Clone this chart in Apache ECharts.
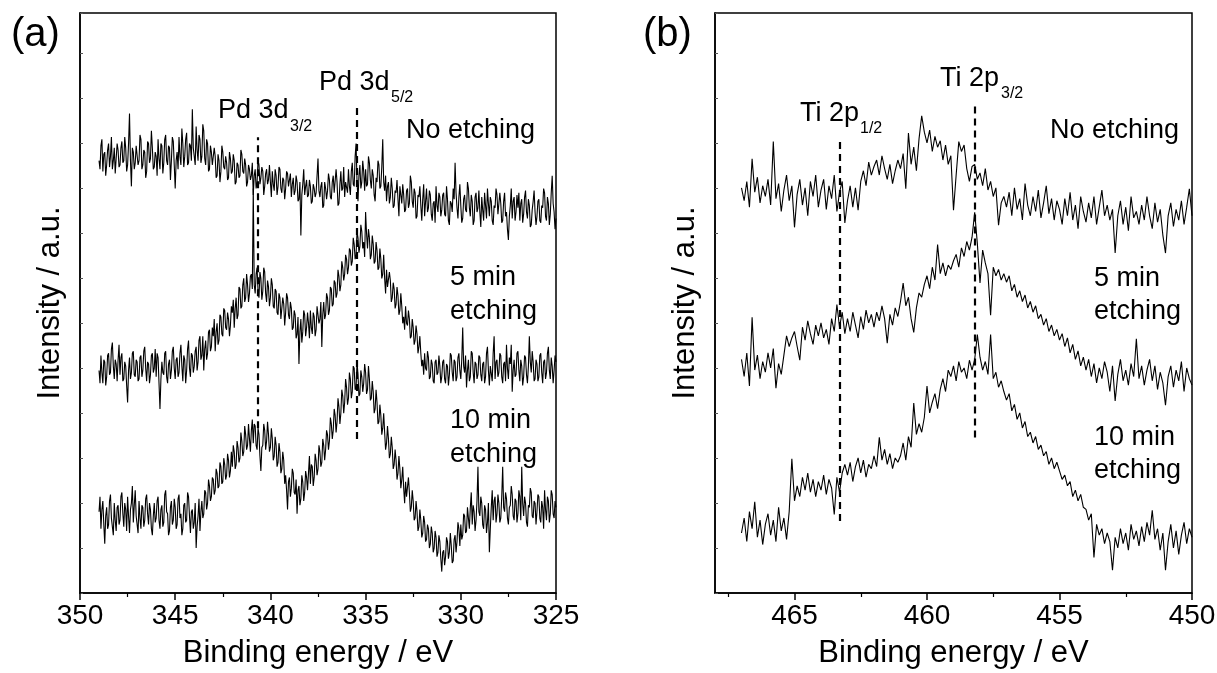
<!DOCTYPE html>
<html><head><meta charset="utf-8">
<script src="https://cdn.jsdelivr.net/npm/echarts@6/dist/echarts.min.js"></script>
<style>html,body{margin:0;padding:0;background:#fff}#c{width:1217px;height:673px}</style>
</head><body><div id="c"></div>
<script>
// ---------- Panel (a): Pd 3d, energy grid 349.00 -> 325.00 eV, step 0.05 ----------
const energyStartA = 349.0, energyStepA = -0.05;
const pdNoEtching = [
1010,990,1045,1060,985,1025,1030,975,1000,1035,1050,995,1020,1065,990,1010,1040,980,1015,1050,
1035,995,1000,1040,1055,1005,1010,1065,1040,985,1000,1050,1120,1010,950,1040,1030,990,1005,1045,
1045,1000,1010,1070,1060,990,1000,1035,1030,970,985,1055,1050,1005,1015,1080,1040,990,995,1030,
1020,975,1060,1015,990,1050,1045,980,1005,1060,1070,1010,1000,1045,1040,965,1010,1065,1055,1000,
945,1010,1030,990,1065,1020,1000,1085,1050,995,1020,1060,1075,1000,1005,1050,1045,1010,1130,1040,
1040,1000,1090,1035,1010,1070,1060,1005,1020,1095,1080,1015,1000,1060,1050,985,990,1045,1030,1000,
1000,1040,1020,970,975,1025,1010,960,985,1045,1030,995,990,1020,1005,965,970,1030,1015,980,
985,1025,1010,955,960,1005,1000,970,975,1035,1025,985,980,1015,1000,950,960,1000,990,965,
975,1005,930,975,990,945,960,1010,1000,955,970,995,985,930,950,980,990,955,965,1000,
960,925,985,955,940,990,975,930,950,995,990,945,935,970,965,920,945,985,980,950,
950,980,925,955,970,930,940,975,960,915,920,960,835,930,955,990,930,950,965,925,
930,965,950,910,915,955,945,925,935,975,1015,940,925,950,960,900,905,960,945,920,
940,980,965,925,920,960,975,935,935,990,960,905,910,955,985,940,945,995,925,960,
960,935,990,950,930,985,1005,955,950,1020,1050,960,915,975,1000,945,960,1010,985,940,
990,950,955,1020,1005,965,945,990,975,930,915,970,960,1010,1000,945,950,995,1060,960,
940,975,915,950,960,910,925,970,945,900,905,940,935,965,920,880,950,930,910,955,
930,890,895,940,945,900,910,975,960,915,900,945,935,875,880,930,925,950,905,870,
920,955,880,915,945,890,900,940,930,885,870,910,915,865,950,905,890,935,925,880,
895,930,935,885,880,950,920,870,860,915,910,890,945,920,1005,935,900,875,925,955,
905,865,875,920,930,895,890,960,945,900,880,930,915,860,870,925,935,890,900,940,
890,855,925,895,870,935,905,875,945,910,880,925,915,870,860,905,900,945,930,885,
885,935,910,865,870,915,935,880,890,850,825,880,905,945,875,915,925,870,890,930,
900,935,870,910,920,865,885,925,940,890,875,920,905,855,860,895,915,940,890,860,
880,915,920,870,865,905,900,945,935,880,870,925,910,860,885,935,975,910,890,850,
875];
const pd5min = [
520,490,555,515,490,545,540,485,505,555,560,510,515,570,585,530,500,545,535,495,
545,580,510,550,560,495,500,540,530,485,445,520,550,500,515,560,565,510,505,545,
540,495,500,550,555,505,520,565,575,525,495,540,535,490,510,555,560,515,525,570,
505,560,550,490,430,500,540,515,510,560,565,505,490,535,545,500,520,565,575,525,
500,545,550,505,515,560,580,530,495,555,545,490,520,570,590,525,505,560,555,515,
530,565,575,520,540,590,600,545,555,600,520,570,590,545,560,610,615,565,575,620,
600,640,565,610,630,580,590,650,645,605,600,665,660,620,615,655,640,600,625,670,
655,685,620,665,690,640,650,715,710,665,670,720,735,680,690,745,720,680,700,740,
745,710,945,720,700,745,760,705,690,750,735,685,705,760,750,700,680,730,715,670,
690,735,720,670,665,710,705,655,650,700,690,640,640,690,675,625,655,700,690,650,
640,680,665,615,620,660,650,595,605,645,535,610,640,585,610,660,650,600,620,655,
630,595,660,620,605,655,645,600,615,670,670,630,640,680,575,650,680,640,650,700,
690,650,660,715,710,670,675,730,725,690,700,755,740,705,720,775,760,730,745,790,
780,745,760,805,800,765,775,830,815,780,790,845,830,795,810,860,845,805,820,785,
890,840,805,850,830,780,790,835,815,770,775,820,800,755,760,805,780,735,745,790,
735,700,755,715,715,750,730,680,690,725,710,665,675,715,695,650,660,700,670,630,
645,615,670,630,625,660,640,595,600,640,620,580,590,625,605,560,575,600,560,530,
545,510,560,525,520,565,550,500,505,545,535,495,490,540,545,510,515,555,530,490,
505,540,545,500,490,535,530,485,510,560,555,515,495,545,540,495,505,550,560,520,
500,545,620,530,515,555,480,520,545,495,505,565,560,515,490,540,535,500,510,555,
550,510,495,535,540,490,505,560,575,520,485,530,530,495,560,600,500,540,545,505,
515,560,555,505,490,535,540,495,580,525,500,550,535,580,470,520,545,505,510,560,
565,520,495,545,530,485,505,555,550,510,490,530,600,540,515,565,540,495,500,545,
535,495,505,555,560,515,490,540,545,500,515,560,575,520,500,550,530,490,520,555,
540];
const pd10min = [
190,225,150,195,215,160,115,180,200,150,160,215,230,175,175,135,210,170,145,200,
205,160,170,225,235,185,155,210,195,145,225,180,140,195,210,250,165,205,240,180,
180,140,215,175,150,205,200,155,170,220,230,185,160,210,195,150,135,180,210,165,
175,215,225,170,150,195,205,155,165,230,240,190,185,135,145,200,215,160,170,220,
200,150,160,220,230,175,185,135,150,205,210,165,170,235,225,180,140,190,195,150,
165,210,105,155,180,220,145,190,215,175,185,240,235,195,210,265,250,215,225,270,
265,230,240,290,280,245,250,305,295,255,260,315,300,265,275,325,310,270,285,330,
295,345,330,290,300,355,340,305,315,375,355,320,330,390,370,335,345,395,360,330,
380,405,350,395,390,345,335,385,370,320,285,340,345,395,380,335,355,400,370,330,
340,385,360,310,320,365,345,295,305,350,330,280,290,330,310,255,275,240,195,260,
270,225,245,290,280,235,230,265,185,240,250,205,220,275,260,215,235,285,270,240,
280,320,255,300,295,250,270,325,310,275,290,345,330,295,305,360,345,310,335,380,
370,335,355,410,395,360,380,430,415,375,400,455,435,395,420,475,460,420,445,500,
480,440,455,515,500,455,470,530,525,475,480,540,510,460,465,520,505,470,490,535,
515,465,475,530,500,450,455,495,470,420,430,475,445,395,400,440,415,370,385,420,
375,335,350,390,360,315,325,365,340,290,300,335,310,265,280,320,290,245,265,295,
245,210,260,225,225,270,235,190,200,240,215,170,175,215,190,145,155,195,170,130,
140,180,165,120,125,160,150,105,115,155,140,95,105,145,130,85,95,135,120,80,
50,95,100,65,85,130,120,80,95,140,110,70,75,125,135,95,120,165,150,110,
160,125,135,185,180,140,145,200,175,150,200,235,160,205,190,145,170,215,295,190,
180,225,210,160,150,205,195,140,165,210,95,150,200,240,170,215,225,165,185,230,
210,165,175,225,295,200,190,235,220,175,160,200,205,250,230,180,170,220,215,165,
185,240,225,170,295,210,180,225,210,165,155,205,200,245,235,180,175,215,210,160,
190,230,225,175,165,215,200,150,240,195,170,225,215,165,185,240,230,185,175,215,
200];

// ---------- Panel (b): Ti 2p, energy grid 467.0 -> 450.0 eV, step 0.1 ----------
const energyStartB = 467.0, energyStepB = -0.1;
const tiNoEtching = [
945,915,960,900,1013,935,970,910,950,925,
965,905,1053,920,955,890,940,975,915,950,
853,930,965,905,945,880,960,925,975,900,
940,965,895,950,920,975,890,935,960,863,
915,950,900,945,893,960,985,950,1005,975,
995,1010,975,1020,990,965,1000,955,985,1010,
990,1025,943,1073,1000,1040,985,1060,1113,1075,
1050,1080,1030,1065,1040,1055,1010,1045,1000,1020,
893,975,1053,1030,1045,990,960,995,1000,965,
980,950,990,940,960,925,945,858,910,925,
900,935,880,945,895,920,870,955,905,880,
925,890,940,875,910,950,885,920,870,915,
895,860,920,880,935,870,905,850,925,890,
865,910,875,925,860,900,940,880,905,870,
895,793,880,915,860,900,845,925,875,890,
860,905,870,925,880,850,910,865,895,835,
793,880,910,855,895,870,915,860,900,943,
880];
const ti5min = [
545,505,560,483,643,520,555,500,540,515,
560,525,570,478,535,510,555,600,575,595,
610,575,543,620,590,635,605,580,625,600,
630,595,615,580,640,610,673,620,655,605,
640,610,655,625,595,645,615,660,630,650,
620,655,635,670,640,583,650,625,665,645,
680,723,670,690,640,608,665,700,690,720,
740,710,760,730,813,745,770,740,765,755,
775,790,760,805,785,820,800,830,888,815,
723,800,770,745,648,760,740,755,730,745,
725,740,705,720,690,705,680,695,665,680,
655,670,640,650,625,640,610,625,600,615,
590,605,575,595,560,580,545,565,530,550,
520,545,505,535,490,525,500,540,515,470,
530,448,510,545,495,520,485,535,505,593,
500,530,485,520,545,495,530,475,515,490,
438,505,530,480,520,495,540,470,525,500,
485];
const ti10min = [
140,175,120,190,150,213,130,170,113,160,
185,135,170,120,200,145,175,125,190,313,
215,250,225,270,240,280,235,265,225,260,
240,275,230,265,245,183,270,235,280,300,
275,305,260,295,315,280,310,270,300,290,
320,295,363,310,335,300,325,290,315,305,
320,350,310,365,340,443,370,395,375,410,
483,420,445,465,430,475,500,470,520,505,
530,495,540,515,525,500,543,520,545,603,
550,520,540,510,603,500,515,480,495,470,
450,465,425,440,405,420,385,400,365,375,
350,365,335,345,320,330,300,315,290,305,
285,265,275,250,260,225,240,215,230,200,
195,170,185,83,160,135,150,115,140,120,
53,130,105,150,115,140,100,160,125,145,
110,155,120,165,135,193,125,150,100,140,
53,120,160,105,145,90,135,165,115,150,
130];

// peak reference lines: energy, lower end, upper end (intensity units)
const peakEnergyA = [340.68, 335.47], peakLowA = [385, 360], peakHighA = [1065, 1140];
const peakEnergyB = [463.31, 458.2], peakLowB = [168, 363], peakHighB = [1053, 1145];

// axis ticks
const majorTicksA = [325, 330, 335, 340, 345, 350];
const minorTicksA = [327.5, 332.5, 337.5, 342.5, 347.5];
const majorTicksB = [450, 455, 460, 465];
const minorTicksB = [452.5, 457.5, 462.5, 467.5];

function pairs(start, step, vals) {
  return vals.map((v, i) => [Math.round((start + step * i) * 1000) / 1000, v]);
}

const FONT = '"Liberation Sans", Arial, sans-serif';
const BLACK = '#000';

function mainX(gridIndex, min, max, majors) {
  return {
    type: 'value', gridIndex, min, max, inverse: true, position: 'bottom',
    axisLine: {show: true, onZero: false, lineStyle: {color: BLACK, width: 1.5}},
    axisTick: {show: true, inside: false, length: 7, lineStyle: {color: BLACK, width: 1.5}, customValues: majors},
    axisLabel: {show: true, color: BLACK, fontSize: 28, fontFamily: FONT, margin: 9, customValues: majors},
    splitLine: {show: false},
    name: 'Binding energy / eV', nameLocation: 'middle', nameGap: 45,
    nameTextStyle: {color: BLACK, fontSize: 31, fontFamily: FONT}
  };
}
function minorX(gridIndex, min, max, minors) {
  return {
    type: 'value', gridIndex, min, max, inverse: true, position: 'bottom',
    axisLine: {show: false},
    axisTick: {show: true, inside: false, length: 4, lineStyle: {color: BLACK, width: 1.2}, customValues: minors},
    axisLabel: {show: false}, splitLine: {show: false}
  };
}
function yAx(gridIndex, max) {
  return {
    type: 'value', gridIndex, min: 0, max, interval: 105,
    axisLine: {show: true, onZero: false, lineStyle: {color: BLACK, width: 1.5}},
    axisTick: {show: true, inside: true, length: 3, lineStyle: {color: '#555', width: 1}},
    axisLabel: {show: false}, splitLine: {show: false},
    name: 'Intensity / a.u.', nameLocation: 'middle', nameGap: 14, nameRotate: 90,
    nameTextStyle: {color: BLACK, fontSize: 31, fontFamily: FONT}
  };
}
function lineSeries(xi, yi, data, marks) {
  const s = {
    type: 'line', xAxisIndex: xi, yAxisIndex: yi, data, showSymbol: false, symbol: 'none',
    lineStyle: {color: BLACK, width: 1.1}, animation: false, silent: true
  };
  if (marks) {
    s.markLine = {
      silent: true, symbol: ['none', 'none'], animation: false,
      label: {show: false},
      lineStyle: {color: BLACK, width: 2.2, type: [7, 5]},
      data: marks
    };
  }
  return s;
}
function peakMarks(es, lo, hi) {
  return es.map((e, i) => [{coord: [e, lo[i]]}, {coord: [e, hi[i]]}]);
}

function txt(x, y, text, size) {
  return {type: 'text', x, y, silent: true,
    style: {text, x: 0, y: 0, fill: BLACK, font: size + 'px ' + FONT, align: 'left', verticalAlign: 'middle'}};
}

const chart = echarts.init(document.getElementById('c'), null, {renderer: 'canvas'});
chart.setOption({
  backgroundColor: '#fff',
  animation: false,
  grid: [
    {left: 80, top: 13, width: 476, height: 580, show: true, borderColor: BLACK, borderWidth: 1.5, backgroundColor: 'transparent', outerBoundsMode: 'none', containLabel: false},
    {left: 715, top: 13, width: 477, height: 580, show: true, borderColor: BLACK, borderWidth: 1.5, backgroundColor: 'transparent', outerBoundsMode: 'none', containLabel: false}
  ],
  xAxis: [
    mainX(0, 325, 350, majorTicksA), minorX(0, 325, 350, minorTicksA),
    mainX(1, 450, 468, majorTicksB), minorX(1, 450, 468, minorTicksB)
  ],
  yAxis: [yAx(0, 1355), yAx(1, 1353)],
  series: [
    lineSeries(0, 0, pairs(energyStartA, energyStepA, pdNoEtching), peakMarks(peakEnergyA, peakLowA, peakHighA)),
    lineSeries(0, 0, pairs(energyStartA, energyStepA, pd5min)),
    lineSeries(0, 0, pairs(energyStartA, energyStepA, pd10min)),
    lineSeries(2, 1, pairs(energyStartB, energyStepB, tiNoEtching), peakMarks(peakEnergyB, peakLowB, peakHighB)),
    lineSeries(2, 1, pairs(energyStartB, energyStepB, ti5min)),
    lineSeries(2, 1, pairs(energyStartB, energyStepB, ti10min))
  ],
  graphic: [
    txt(11, 35, '(a)', 40), txt(643, 35, '(b)', 40),
    txt(218, 111, 'Pd 3d', 27), txt(290, 127, '3/2', 16),
    txt(319, 83, 'Pd 3d', 27), txt(391, 98, '5/2', 16),
    txt(406, 131, 'No etching', 27),
    txt(450, 278, '5 min', 27), txt(450, 312, 'etching', 27),
    txt(450, 421, '10 min', 27), txt(450, 455, 'etching', 27),
    txt(800, 114, 'Ti 2p', 27), txt(860, 129, '1/2', 16),
    txt(940, 79, 'Ti 2p', 27), txt(1001, 94, '3/2', 16),
    txt(1050, 131, 'No etching', 27),
    txt(1094, 279, '5 min', 27), txt(1094, 312, 'etching', 27),
    txt(1094, 438, '10 min', 27), txt(1094, 471, 'etching', 27)
  ]
});
</script></body></html>
